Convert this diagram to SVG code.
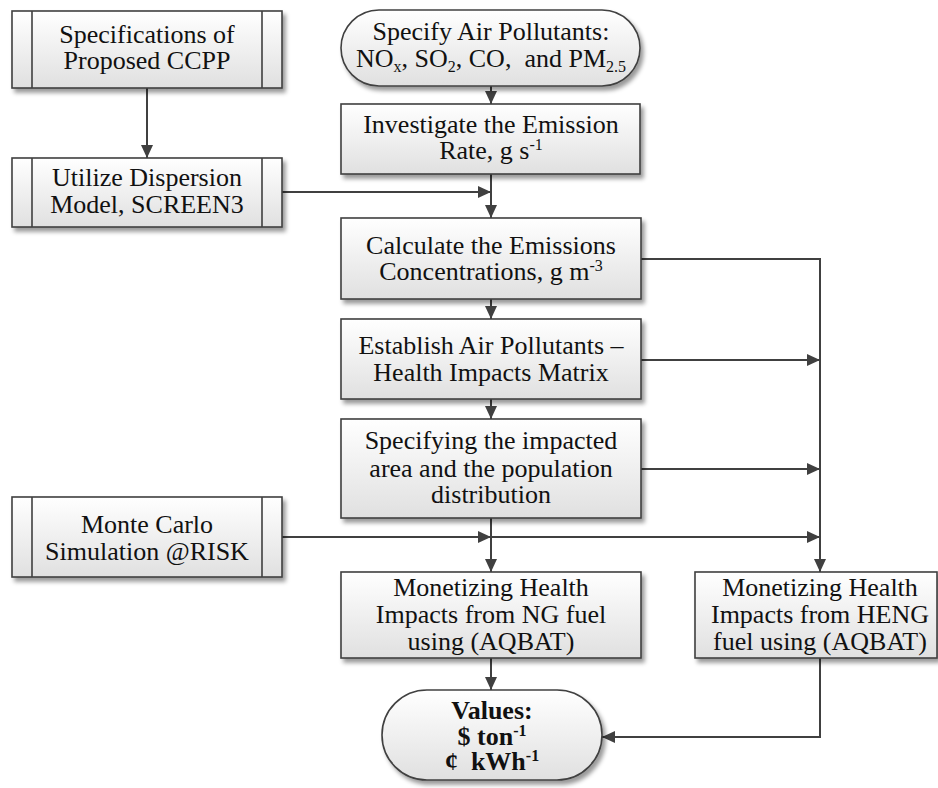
<svg xmlns="http://www.w3.org/2000/svg" width="938" height="788" viewBox="0 0 938 788">
  <style>
    .box { fill: url(#boxFill); stroke: #404040; stroke-width: 1.6; filter: url(#shadow); }
    .bar { stroke: #404040; stroke-width: 1.6; fill: none; }
    .lbl { font-family: "Liberation Serif", "Times New Roman", serif; font-size: 26px; fill: #111; text-anchor: middle; }
    .bold { font-weight: bold; }
    .sup { font-size: 16px; }
    .wire { fill: none; stroke: #404040; stroke-width: 2; }
  </style>
  <defs>
    <linearGradient id="boxFill" x1="0" y1="0" x2="0" y2="1">
      <stop offset="0" stop-color="#ffffff"/>
      <stop offset="1" stop-color="#e0e0e0"/>
    </linearGradient>
    <filter id="shadow" x="-10%" y="-10%" width="125%" height="135%">
      <feDropShadow dx="3" dy="4" stdDeviation="2.2" flood-color="#000" flood-opacity="0.4"/>
    </filter>
    <marker id="ah" markerUnits="userSpaceOnUse" markerWidth="14" markerHeight="12" refX="13" refY="6" orient="auto">
      <path d="M0,0 L13,6 L0,12 z" fill="#404040"/>
    </marker>
  </defs>

  <!-- connectors -->
  <g id="connectors">
    <path class="wire" d="M147,88 V158" marker-end="url(#ah)"/>
    <path class="wire" d="M491,86 V104" marker-end="url(#ah)"/>
    <path class="wire" d="M491,174 V218" marker-end="url(#ah)"/>
    <path class="wire" d="M282,192 H491" marker-end="url(#ah)"/>
    <path class="wire" d="M491,299 V319" marker-end="url(#ah)"/>
    <path class="wire" d="M491,399 V419" marker-end="url(#ah)"/>
    <path class="wire" d="M491,518 V572" marker-end="url(#ah)"/>
    <path class="wire" d="M282,537 H491" marker-end="url(#ah)"/>
    <path class="wire" d="M491,537 H820" marker-end="url(#ah)"/>
    <path class="wire" d="M641,259 H820 V572" marker-end="url(#ah)"/>
    <path class="wire" d="M641,360 H820" marker-end="url(#ah)"/>
    <path class="wire" d="M641,469 H820" marker-end="url(#ah)"/>
    <path class="wire" d="M491,658 V690" marker-end="url(#ah)"/>
    <path class="wire" d="M820,658 V737 H602" marker-end="url(#ah)"/>
  </g>

  <!-- predefined process: specifications -->
  <g id="specs">
    <rect class="box" x="12" y="11" width="270" height="77"/>
    <path class="bar" d="M32,11 V88 M262,11 V88"/>
    <text class="lbl" x="147" y="43">Specifications of</text>
    <text class="lbl" x="147" y="69">Proposed CCPP</text>
  </g>

  <!-- predefined process: dispersion model -->
  <g id="dispersion">
    <rect class="box" x="12" y="158" width="270" height="69"/>
    <path class="bar" d="M32,158 V227 M262,158 V227"/>
    <text class="lbl" x="147" y="186">Utilize Dispersion</text>
    <text class="lbl" x="147" y="213">Model, SCREEN3</text>
  </g>

  <!-- predefined process: Monte Carlo -->
  <g id="montecarlo">
    <rect class="box" x="12" y="497" width="270" height="80"/>
    <path class="bar" d="M32,497 V577 M262,497 V577"/>
    <text class="lbl" x="147" y="533">Monte Carlo</text>
    <text class="lbl" x="147" y="560">Simulation @RISK</text>
  </g>

  <!-- start terminal -->
  <g id="start">
    <rect class="box" x="341" y="10" width="299" height="76" rx="38" ry="38"/>
    <text class="lbl" x="491" y="40">Specify Air Pollutants:</text>
    <text class="lbl" x="491" y="67" style="white-space:pre">NO<tspan class="sup" dy="5">x</tspan><tspan dy="-5">, SO</tspan><tspan class="sup" dy="5">2</tspan><tspan dy="-5">, CO,  and PM</tspan><tspan class="sup" dy="5">2.5</tspan></text>
  </g>

  <g id="emission-rate">
    <rect class="box" x="341" y="104" width="299" height="70"/>
    <text class="lbl" x="491" y="133">Investigate the Emission</text>
    <text class="lbl" x="491" y="159">Rate, g s<tspan class="sup" dy="-9">-1</tspan></text>
  </g>

  <g id="concentrations">
    <rect class="box" x="341" y="218" width="300" height="81"/>
    <text class="lbl" x="491" y="254">Calculate the Emissions</text>
    <text class="lbl" x="491" y="280">Concentrations, g m<tspan class="sup" dy="-9">-3</tspan></text>
  </g>

  <g id="matrix">
    <rect class="box" x="341" y="319" width="300" height="80"/>
    <text class="lbl" x="491" y="354">Establish Air Pollutants –</text>
    <text class="lbl" x="491" y="381">Health Impacts Matrix</text>
  </g>

  <g id="population">
    <rect class="box" x="341" y="419" width="300" height="99"/>
    <text class="lbl" x="491" y="449">Specifying the impacted</text>
    <text class="lbl" x="491" y="477">area and the population</text>
    <text class="lbl" x="491" y="503">distribution</text>
  </g>

  <g id="ng-impacts">
    <rect class="box" x="341" y="572" width="300" height="86"/>
    <text class="lbl" x="491" y="596">Monetizing Health</text>
    <text class="lbl" x="491" y="623">Impacts from NG fuel</text>
    <text class="lbl" x="491" y="650">using (AQBAT)</text>
  </g>

  <g id="heng-impacts">
    <rect class="box" x="695" y="572" width="242" height="86"/>
    <text class="lbl" x="820" y="596">Monetizing Health</text>
    <text class="lbl" x="820" y="623">Impacts from HENG</text>
    <text class="lbl" x="820" y="650">fuel using (AQBAT)</text>
  </g>

  <!-- end terminal -->
  <g id="values">
    <rect class="box" x="382" y="690" width="220" height="90" rx="45" ry="45"/>
    <text class="lbl bold" x="492" y="719">Values:</text>
    <text class="lbl bold" x="492" y="745">$ ton<tspan class="sup" dy="-9">-1</tspan></text>
    <text class="lbl bold" x="492" y="770" style="white-space:pre">¢  kWh<tspan class="sup" dy="-9">-1</tspan></text>
  </g>
</svg>
